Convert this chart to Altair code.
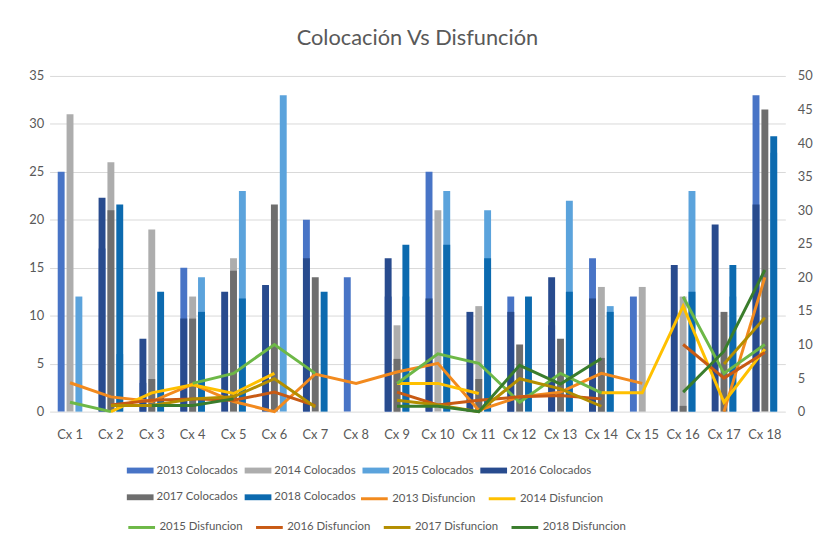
import altair as alt
import pandas as pd

cats = [f"Cx {i}" for i in range(1, 19)]

# Bars (left axis, 0-35)
c2013 = [25, 17, 3, 15, 0, 0, 20, 14, 12, 25, 0, 12, 9, 16, 12, 0, 0, 33]
c2014 = [31, 26, 19, 12, 16, 0, 0, 0, 9, 21, 11, 0, 0, 13, 13, 12, 0, 0]
c2015 = [12, 6, 0, 14, 23, 33, 0, 0, 12, 23, 21, 0, 22, 11, 0, 23, 12, 27]
c2016 = [0, 22.3, 7.6, 9.7, 12.5, 13.2, 16, 0, 16, 11.8, 10.4, 10.4, 14, 11.8, 0, 15.3, 19.5, 21.6]
c2017 = [0, 21, 3.4, 9.7, 14.7, 21.6, 14, 0, 5.5, 0, 3.4, 7, 7.6, 5.6, 0, 0.6, 10.4, 31.5]
c2018 = [0, 21.6, 12.5, 10.4, 11.8, 0, 12.5, 0, 17.4, 17.4, 16, 12, 12.5, 10.4, 0, 12.5, 15.3, 28.7]

# Lines (right axis, 0-50); None = no point
d2013 = [4.3, 2.2, 1.5, 4.1, 1.5, 0, 5.6, 4.2, 5.9, 7.2, 0.2, 2.2, 2.9, 5.7, 4.2, None, 0, 20]
d2014 = [None, 0, 2.8, 4.0, 2.7, 5.7, None, None, 4.2, 4.2, 2.7, None, None, 2.8, 2.8, 15.7, 1.4, 9.3]
d2015 = [1.4, 0, None, 4.2, 5.7, 10, 5.7, None, 4.2, 8.6, 7.2, 1.4, 5.7, 2.8, None, 17.1, 5.7, 10]
d2016 = [None, 1.0, 1.7, 1.9, 1.7, 2.9, 0.9, None, 2.9, 1.0, 1.7, 2.2, 2.4, 1.9, None, 10, 5.0, 8.8]
d2017 = [None, 0.9, 0.9, 1.9, 2.2, 4.9, 0.7, None, 1.7, 1.0, 0, 4.9, 3.4, 0.8, None, None, 7.1, 14]
d2018 = [None, None, 0.9, 0.9, 1.9, None, None, None, 0.8, 0.8, 0, 6.9, 4.1, 7.9, None, 2.9, 9, 21.1]

bar_names = ["2013 Colocados", "2014 Colocados", "2015 Colocados",
             "2016 Colocados", "2017 Colocados", "2018 Colocados"]
bar_colors = ["#4874C6", "#ADADAD", "#5BA3DC", "#284B8E", "#6E6E6E", "#0C6AAF"]
line_names_a = ["2013 Disfuncion", "2014 Disfuncion"]
line_colors_a = ["#F28A1E", "#FFC000"]
line_names_b = ["2015 Disfuncion", "2016 Disfuncion", "2017 Disfuncion", "2018 Disfuncion"]
line_colors_b = ["#6DB847", "#C85A14", "#B38E00", "#3A7D2C"]

bar_vals = [c2013, c2014, c2015, c2016, c2017, c2018]
rows = []
for k, (name, vals) in enumerate(zip(bar_names, bar_vals)):
    for c, v in zip(cats, vals):
        rows.append({"cat": c, "series": name, "slot": k % 3, "front": k // 3, "value": v})
bars_df = pd.DataFrame(rows)


def line_frame(names, series):
    out = []
    for name, vals in zip(names, series):
        seg = 0
        for i, (c, v) in enumerate(zip(cats, vals)):
            if v is None:
                seg += 1
                continue
            out.append({"cat": c, "idx": i, "series": name, "value": v, "seg": f"{name}-{seg}"})
    return pd.DataFrame(out)


la_df = line_frame(line_names_a, [d2013, d2014])
lb_df = line_frame(line_names_b, [d2015, d2016, d2017, d2018])

TXT = "#595959"
FS = 13
LFS = 11.5

leg_common = dict(title=None, orient="none", direction="horizontal", columns=4,
                  symbolSize=729, labelFontSize=LFS, labelColor=TXT, labelOffset=3,
                  columnPadding=6, rowPadding=8, labelLimit=200)

x_enc = alt.X("cat:N", sort=cats, title=None,
              scale=alt.Scale(paddingInner=0.35, paddingOuter=0.175),
              axis=alt.Axis(labelAngle=0, ticks=False, domain=False, labelPadding=17,
                            labelFontSize=FS, labelColor=TXT))
xo_enc = alt.XOffset("slot:O", scale=alt.Scale(paddingInner=0.22, paddingOuter=0.11))
y_left = alt.Y("value:Q", title=None, stack=None,
               scale=alt.Scale(domain=[0, 35], nice=False),
               axis=alt.Axis(values=list(range(0, 36, 5)), ticks=False, domain=False,
                             labelPadding=6, labelFontSize=FS, labelColor=TXT,
                             gridColor="#D9D9D9", gridWidth=1))
bar_color = alt.Color("series:N", scale=alt.Scale(domain=bar_names, range=bar_colors),
                      legend=alt.Legend(legendX=78, legendY=385,
                                        symbolType="M-1,-0.22H1V0.22H-1Z",
                                        symbolStrokeWidth=0, **leg_common))

back = alt.Chart(bars_df).transform_filter("datum.front == 0").mark_bar().encode(
    x=x_enc, xOffset=xo_enc, y=y_left, color=bar_color)
front = alt.Chart(bars_df).transform_filter("datum.front == 1").mark_bar().encode(
    x=x_enc, xOffset=xo_enc, y=y_left, color=bar_color)
bars = alt.layer(back, front)

y_right = alt.Y("value:Q", title=None,
                scale=alt.Scale(domain=[0, 50], nice=False),
                axis=alt.Axis(orient="right", values=list(range(0, 51, 5)), ticks=False,
                              domain=False, grid=False, labelPadding=12,
                              labelFontSize=FS, labelColor=TXT))

line_a = alt.Chart(la_df).mark_line(strokeWidth=3).encode(
    x=alt.X("cat:N", sort=cats),
    y=y_right,
    color=alt.Color("series:N", scale=alt.Scale(domain=line_names_a, range=line_colors_a),
                    legend=alt.Legend(legendX=313, legendY=412, symbolType="stroke",
                                      symbolStrokeWidth=3, **leg_common)),
    detail="seg:N",
    order="idx:Q",
)
line_b = alt.Chart(lb_df).mark_line(strokeWidth=3).encode(
    x=alt.X("cat:N", sort=cats),
    y=y_right,
    color=alt.Color("series:N", scale=alt.Scale(domain=line_names_b, range=line_colors_b),
                    legend=alt.Legend(legendX=78, legendY=441, symbolType="stroke",
                                      symbolStrokeWidth=3, **leg_common)),
    detail="seg:N",
    order="idx:Q",
)
lines = alt.layer(line_a, line_b).resolve_scale(color="independent")

chart = alt.layer(bars, lines).resolve_scale(y="independent", color="independent").properties(
    width=743,
    height=339,
    autosize=alt.AutoSizeParams(type="none"),
    padding={"left": 42, "top": 66, "right": 31, "bottom": 124},
    title=alt.Title("Colocación Vs Disfunción", fontSize=22, fontWeight="normal",
                    color=TXT, anchor="middle", offset=20),
    background="white",
).configure(font="Lato").configure_view(stroke=None)

chart.save("out.html", embed_options={"renderer": "svg", "actions": False})
